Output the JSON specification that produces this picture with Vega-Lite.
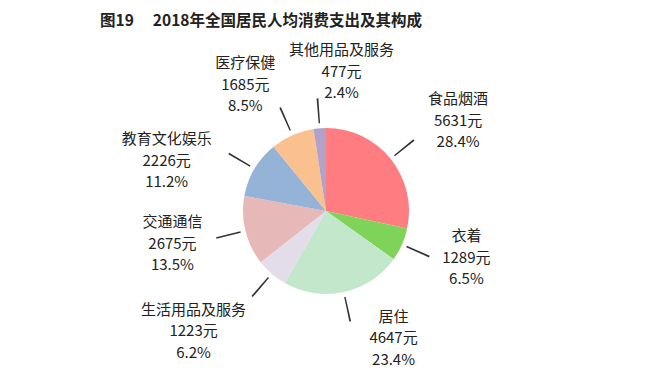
{
  "$schema": "https://vega.github.io/schema/vega-lite/v6.json",
  "width": 652,
  "height": 332,
  "autosize": {"type": "none"},
  "padding": {"left": 0, "top": 45, "right": 11, "bottom": 0},
  "background": "white",
  "title": {
    "text": "图19\u3000\u00a02018年全国居民人均消费支出及其构成",
    "font": "Noto Sans CJK SC",
    "fontSize": 15.5,
    "fontWeight": "bold",
    "color": "#222222",
    "anchor": "middle",
    "dx": -65,
    "offset": 14
  },
  "data": {
    "values": [
      {"category": "食品烟酒", "value": 5631, "pct": 28.4},
      {"category": "衣着", "value": 1289, "pct": 6.5},
      {"category": "居住", "value": 4647, "pct": 23.4},
      {"category": "生活用品及服务", "value": 1223, "pct": 6.2},
      {"category": "交通通信", "value": 2675, "pct": 13.5},
      {"category": "教育文化娱乐", "value": 2226, "pct": 11.2},
      {"category": "医疗保健", "value": 1685, "pct": 8.5},
      {"category": "其他用品及服务", "value": 477, "pct": 2.4}
    ]
  },
  "transform": [
    {"window": [{"op": "row_number", "as": "idx"}, {"op": "sum", "field": "value", "as": "cum"}], "frame": [null, 0]},
    {"calculate": "datum.cum - datum.value / 2", "as": "mid"},
    {"calculate": "datum.mid - 25", "as": "a0"},
    {"calculate": "datum.mid + 25", "as": "a1"},
    {"calculate": "datum.category + '\\n' + datum.value + '元\\n' + format(datum.pct, '.1f') + '%'", "as": "label"}
  ],
  "layer": [
    {
      "mark": {"type": "arc", "radius": 83},
      "encoding": {
        "theta": {"field": "value", "type": "quantitative", "stack": true},
        "order": {"field": "idx", "type": "quantitative"},
        "color": {
          "field": "category",
          "type": "nominal",
          "scale": {
            "domain": ["食品烟酒", "衣着", "居住", "生活用品及服务", "交通通信", "教育文化娱乐", "医疗保健", "其他用品及服务"],
            "range": ["#FF7C80", "#7ED358", "#C3E7CB", "#E3DDEA", "#E6B8B8", "#95B3D7", "#FAC090", "#B3A2C7"]
          },
          "legend": null
        }
      }
    },
    {
      "mark": {"type": "arc", "radius": 88, "radius2": 113, "color": "#333333"},
      "encoding": {
        "theta": {"field": "a0", "type": "quantitative", "stack": null},
        "theta2": {"field": "a1"}
      }
    },
    {
      "transform": [{"filter": "datum.category === '食品烟酒'"}],
      "mark": {"type": "text", "radius": 160, "thetaOffset": 0.08, "lineBreak": "\n", "font": "Noto Sans CJK SC", "fontSize": 15, "lineHeight": 21.5, "dy": -21.5, "baseline": "middle", "align": "center", "color": "#222222"},
      "encoding": {"theta": {"field": "mid", "type": "quantitative", "stack": null}, "text": {"field": "label", "type": "nominal"}}
    },
    {
      "transform": [{"filter": "datum.category === '衣着'"}],
      "mark": {"type": "text", "radius": 148, "thetaOffset": -0.093, "lineBreak": "\n", "font": "Noto Sans CJK SC", "fontSize": 15, "lineHeight": 21.5, "dy": -21.5, "baseline": "middle", "align": "center", "color": "#222222"},
      "encoding": {"theta": {"field": "mid", "type": "quantitative", "stack": null}, "text": {"field": "label", "type": "nominal"}}
    },
    {
      "transform": [{"filter": "datum.category === '居住'"}],
      "mark": {"type": "text", "radius": 144, "thetaOffset": -0.272, "lineBreak": "\n", "font": "Noto Sans CJK SC", "fontSize": 15, "lineHeight": 21.5, "dy": -21.5, "baseline": "middle", "align": "center", "color": "#222222"},
      "encoding": {"theta": {"field": "mid", "type": "quantitative", "stack": null}, "text": {"field": "label", "type": "nominal"}}
    },
    {
      "transform": [{"filter": "datum.category === '生活用品及服务'"}],
      "mark": {"type": "text", "radius": 179, "thetaOffset": 0.12, "lineBreak": "\n", "font": "Noto Sans CJK SC", "fontSize": 15, "lineHeight": 21.5, "dy": -21.5, "baseline": "middle", "align": "center", "color": "#222222"},
      "encoding": {"theta": {"field": "mid", "type": "quantitative", "stack": null}, "text": {"field": "label", "type": "nominal"}}
    },
    {
      "transform": [{"filter": "datum.category === '交通通信'"}],
      "mark": {"type": "text", "radius": 157, "thetaOffset": 0.031, "lineBreak": "\n", "font": "Noto Sans CJK SC", "fontSize": 15, "lineHeight": 21.5, "dy": -21.5, "baseline": "middle", "align": "center", "color": "#222222"},
      "encoding": {"theta": {"field": "mid", "type": "quantitative", "stack": null}, "text": {"field": "label", "type": "nominal"}}
    },
    {
      "transform": [{"filter": "datum.category === '教育文化娱乐'"}],
      "mark": {"type": "text", "radius": 167, "thetaOffset": -0.23, "lineBreak": "\n", "font": "Noto Sans CJK SC", "fontSize": 15, "lineHeight": 21.5, "dy": -21.5, "baseline": "middle", "align": "center", "color": "#222222"},
      "encoding": {"theta": {"field": "mid", "type": "quantitative", "stack": null}, "text": {"field": "label", "type": "nominal"}}
    },
    {
      "transform": [{"filter": "datum.category === '医疗保健'"}],
      "mark": {"type": "text", "radius": 150, "thetaOffset": -0.15, "lineBreak": "\n", "font": "Noto Sans CJK SC", "fontSize": 15, "lineHeight": 21.5, "dy": -21.5, "baseline": "middle", "align": "center", "color": "#222222"},
      "encoding": {"theta": {"field": "mid", "type": "quantitative", "stack": null}, "text": {"field": "label", "type": "nominal"}}
    },
    {
      "transform": [{"filter": "datum.category === '其他用品及服务'"}],
      "mark": {"type": "text", "radius": 140, "thetaOffset": 0.187, "lineBreak": "\n", "font": "Noto Sans CJK SC", "fontSize": 15, "lineHeight": 21.5, "dy": -21.5, "baseline": "middle", "align": "center", "color": "#222222"},
      "encoding": {"theta": {"field": "mid", "type": "quantitative", "stack": null}, "text": {"field": "label", "type": "nominal"}}
    }
  ]
}
